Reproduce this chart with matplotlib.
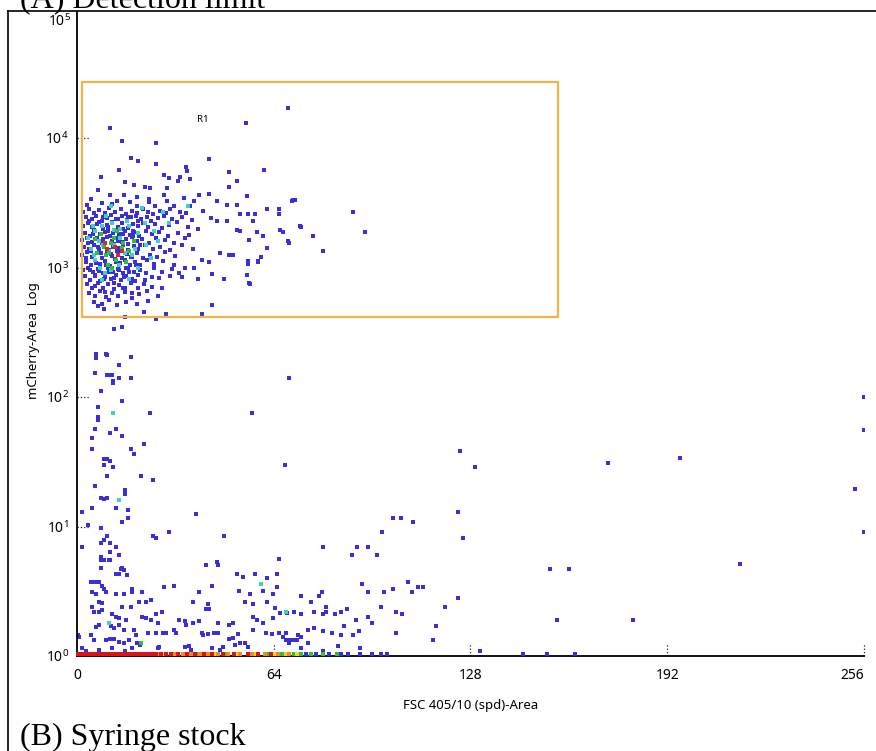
import math

import matplotlib
matplotlib.use("Agg")
import matplotlib.pyplot as plt
from matplotlib.patches import Rectangle
from matplotlib.ticker import FixedLocator, FuncFormatter

plt.rcParams['font.family'] = ['Noto Sans', 'DejaVu Sans']

# ---- events inside / around gate R1 (FSC area, mCherry area) ----
upper_x = [10.8, 14.8, 25.7, 54.9, 68.7, 17.7, 19.7, 42.8, 25.7, 35.3, 35.9, 60.8,
           49.6, 7.8, 13.7, 51.9, 49.6, 55.2, 70.2, 72.5, 43.1, 39.8, 45.7, 48.7,
           51.9, 52.9, 55.5, 57.8, 61.7, 65.6, 65.6, 45.7, 48.7, 57.1, 51.9, 53.0,
           58.4, 60.4, 66.0, 67.0, 68.6, 55.8, 50.6, 49.6, 55.5, 55.5, 58.8, 55.2,
           55.8, 47.7, 43.8, 39.2, 43.1, 40.8, 46.4, 43.8, 40.8, 29.0, 21.9, 6.8,
           8.8, 69.8, 70.8, 89.8, 93.7, 72.8, 76.7, 80.0, 68.9, 61.7, 60.0, 58.8,
           56.2, 12.1, 14.8, 15.7, 25.7, 28.4, 30.0, 29.4, 32.7, 33.6, 36.9, 15.7,
           18.6, 22.2, 23.8, 6.9]
upper_y = [12000, 9500, 9100, 13000, 17000, 7000, 6600, 6900, 6300, 6000, 5600, 5700,
           5500, 5000, 5700, 4650, 4150, 3550, 3300, 2080, 3700, 3600, 3240, 3020,
           3020, 2570, 2570, 2570, 2810, 2810, 2570, 2270, 2300, 2270, 1950, 1900,
           1870, 1740, 1950, 1870, 1590, 1620, 1240, 1260, 1130, 1070, 1130, 870,
           760, 820, 890, 810, 1110, 1150, 1290, 510, 440, 435, 455, 500,
           480, 3250, 3350, 2700, 1880, 2050, 1760, 1350, 1560, 1420, 1200, 1100,
           750, 335, 350, 417, 400, 5160, 4900, 4100, 4650, 5000, 4800, 4600,
           4300, 4200, 4100, 4000]

# dense core of the positive population
core_x = [4.6, 10.8, 15.4, 19.6, 23.5, 28.4, 34.9,
          3.1, 8.2, 11.4, 13.0, 17.3, 19.6, 23.5, 25.5, 29.4, 31.7, 36.9, 38.0,
          2.0, 4.0, 5.4, 7.2, 9.1, 10.4, 12.5, 14.2, 16.0, 17.8, 19.6, 21.5, 23.1, 24.8, 27.0, 28.8, 30.4, 33.6, 35.5, 41.0,
          3.0, 4.8, 6.3, 8.0, 9.6, 11.2, 12.8, 14.5, 16.2, 17.6, 19.2, 20.9, 22.7, 24.2, 26.5, 28.2, 31.0, 34.0, 37.5, 43.5,
          1.8, 3.5, 5.0, 6.6, 8.3, 9.9, 11.5, 13.2, 14.8, 16.5, 18.1, 19.8, 21.4, 23.0, 25.3, 27.8, 30.0, 32.5, 36.0, 39.5,
          2.5, 4.2, 5.8, 7.4, 9.0, 10.6, 12.2, 13.8, 15.5, 17.1, 18.7, 20.3, 22.3, 24.5, 26.8, 29.5, 33.0, 36.5,
          1.5, 3.2, 4.9, 6.5, 8.1, 9.7, 11.3, 12.9, 14.5, 16.1, 17.8, 19.4, 21.0, 23.4, 25.8, 28.5, 31.6, 35.0,
          2.2, 3.9, 5.5, 7.1, 8.7, 10.3, 11.9, 13.5, 15.1, 16.7, 18.4, 20.0, 22.1, 24.6, 27.1, 30.2, 34.3, 37.6,
          1.6, 3.4, 5.0, 6.6, 8.2, 9.8, 11.4, 13.0, 14.6, 16.3, 17.9, 19.6, 21.4, 23.6, 26.0, 28.7, 32.0,
          2.8, 4.4, 6.0, 7.6, 9.2, 10.8, 12.4, 14.0, 15.6, 17.2, 18.9, 20.6, 22.8, 25.2, 28.0, 31.5, 35.2,
          1.9, 3.6, 5.2, 6.8, 8.4, 10.0, 11.6, 13.3, 15.0, 16.7, 18.5, 20.4, 22.6, 25.0, 27.6, 30.8, 33.3, 38.0,
          2.6, 4.3, 5.9, 7.5, 9.2, 10.9, 12.6, 14.3, 16.0, 17.8, 19.8, 22.0, 24.4, 26.8, 30.2, 34.0,
          3.3, 5.0, 6.7, 8.4, 10.2, 12.0, 13.8, 15.7, 17.6, 19.7, 21.9, 24.5, 27.8,
          4.0, 5.8, 7.6, 9.5, 11.4, 13.4, 15.5, 17.8, 20.2, 22.9, 26.5,
          5.5, 8.0, 10.5, 13.0, 16.0, 19.5, 23.0,
          4.0, 5.6, 7.0, 8.6, 10.2, 11.8, 13.4, 15.0, 16.6, 18.2, 19.8,
          3.6, 5.3, 6.9, 8.5, 10.1, 11.7, 13.3, 14.9, 16.5, 18.1, 20.5,
          3.0, 4.7, 6.3, 7.9, 9.5, 11.1, 12.7, 14.3, 15.9, 17.5, 19.3,
          4.1, 5.7, 7.3, 8.9, 10.5, 12.1, 13.7, 15.3, 17.0, 18.8,
          6.0, 9.0, 12.0, 15.0, 18.0]
core_y = [3400, 3600, 3650, 3520, 3380, 3620, 3420,
          3050, 3150, 3100, 3250, 3180, 3000, 3220, 2980, 3240, 2960, 2960, 3240,
          2700, 2850, 2650, 2780, 2620, 2900, 2700, 2850, 2600, 2750, 2650, 2820, 2680, 2600, 2750, 2640, 2820, 2700, 2620, 2750,
          2450, 2350, 2500, 2300, 2420, 2550, 2380, 2480, 2320, 2450, 2520, 2350, 2460, 2300, 2420, 2520, 2380, 2450, 2320, 2400,
          2100, 2200, 2050, 2180, 2000, 2120, 2230, 2060, 2190, 2020, 2150, 2080, 2210, 2040, 2160, 2010, 2120, 2230, 2050, 1980,
          1850, 1760, 1920, 1800, 1880, 1750, 1950, 1820, 1900, 1780, 1870, 1760, 1920, 1800, 1880, 1760, 1850, 1780,
          1620, 1700, 1580, 1680, 1560, 1720, 1600, 1690, 1570, 1650, 1710, 1590, 1660, 1550, 1700, 1620, 1540, 1680,
          1450, 1380, 1500, 1400, 1480, 1360, 1520, 1420, 1490, 1370, 1460, 1400, 1500, 1380, 1450, 1370, 1500, 1400,
          1250, 1320, 1200, 1290, 1180, 1310, 1230, 1330, 1190, 1270, 1210, 1300, 1180, 1260, 1200, 1310, 1230,
          1100, 1040, 1150, 1060, 1130, 1030, 1160, 1080, 1140, 1040, 1110, 1050, 1150, 1070, 1120, 1040, 1000,
          950, 1000, 920, 980, 900, 990, 930, 970, 905, 985, 920, 960, 900, 990, 930, 970, 900, 1000,
          860, 800, 870, 790, 850, 810, 880, 800, 860, 820, 870, 800, 850, 830, 860, 840,
          740, 690, 760, 700, 750, 680, 730, 700, 760, 690, 740, 710, 690,
          640, 600, 660, 590, 640, 600, 650, 580, 620, 660, 600,
          540, 520, 560, 510, 545, 520, 550,
          2300, 1950, 2250, 2450, 2050, 1850, 2350, 2000, 2450, 1900, 2300,
          1550, 1800, 1450, 1650, 1900, 1450, 1600, 1800, 1520, 1760, 1480,
          1180, 1350, 1080, 1300, 1050, 1280, 1100, 1350, 1000, 1200, 1050,
          950, 860, 940, 820, 920, 830, 960, 850, 930, 780,
          720, 650, 760, 690, 640]

# higher-density events (colour-coded by local density)
cyan_x = [5.2, 9.5, 12.0, 16.3, 20.0, 7.0, 14.0, 22.5, 10.5, 18.0, 6.0, 13.5, 24.0, 9.0,
          16.8, 26.5, 30.0, 28.0, 36.0, 4.5, 11.0, 21.0, 6.0, 8.0, 11.5, 14.0, 17.0,
          8.5, 12.0, 5.5, 15.5, 19.0, 11.0, 7.5, 3.5, 22.0, 25.0, 8.0, 20.0,
          11.8, 13.7, 10.4, 60.0, 68.0]
cyan_y = [2100, 2500, 1950, 2300, 1850, 1600, 1700, 1500, 1350, 1250, 1150, 1050, 1180, 900,
          820, 1600, 2200, 2700, 3000, 1400, 3000, 2900, 1900, 2100, 2200, 2000, 2100,
          1500, 1500, 1250, 1300, 1400, 950, 1000, 1700, 2200, 1900, 800, 1000,
          75, 15.9, 1.8, 3.6, 2.2]
green_x = [7.8, 11.2, 14.8, 9.3, 12.6, 16.0, 6.5, 13.0, 18.5, 10.0, 8.8, 12.0, 10.5,
           6.0, 15.0, 17.0, 11.5, 20.9]
green_y = [1800, 1550, 1420, 1250, 1150, 1100, 1300, 1900, 1600, 1050, 1450, 1700, 1300,
           1650, 1550, 1350, 1000, 1.26]
red_x = [9.8, 14.8, 13.2, 9.0, 12.5]
red_y = [1400, 1350, 1250, 1550, 1450]

# scattered events below the gate
low_x = [6.2, 9.5, 17.7, 6.2, 9.8, 13.7, 5.9, 9.8, 10.6, 11.4, 13.7, 17.7, 11.8, 11.8,
         68.9, 7.8, 14.8, 6.8, 23.8, 56.8, 6.8, 6.8, 5.9, 12.7, 10.8, 14.8, 4.9, 21.9,
         4.9, 17.7, 18.7, 8.8, 9.8, 10.8, 8.8, 11.8, 67.8, 9.8, 20.9, 24.8, 5.9, 15.7,
         15.7, 7.8, 8.8, 9.8, 4.9, 12.7, 1.7, 16.7, 38.8, 14.8, 16.7, 3.7, 7.8, 24.8,
         25.7, 29.8, 47.8, 9.8, 7.8, 8.8, 10.8, 1.7, 12.7, 10.8, 13.7, 7.8, 8.8, 10.8,
         65.6, 45.7, 41.8, 7.8, 14.8,
         256, 256, 124.7, 129.6, 172.7, 196.2, 253, 256, 123.8, 125.7, 105.5, 102.9,
         109.4, 99.3, 91.1, 94.7, 80.0, 89.5, 97.6, 153.8, 215.8, 181, 131, 124.0,
         119.8, 116.9, 115.9, 107.8, 111.0, 112.7, 109.0, 102.9, 99.9, 94.7, 92.7, 79.7,
         72.8, 78.7, 76.0, 81.0, 81.0, 87.8, 98.9, 103.8, 105.8, 160, 156, 70.5, 73.0,
         77.0, 80.0, 84.0, 86.0, 90.8, 94.7, 96.0, 68.0, 71.8, 72.8, 75.0, 77.0, 80.0,
         83.0, 86.0, 87.0, 91.8, 89.8, 103.8, 69.0, 75.0, 73.0, 85.0, 92.0, 80.0,
         7.8, 10.4, 41.8, 45.8, 14.4, 15.4, 12.7, 13.7, 16.3, 51.9, 53.9, 57.8, 61.7,
         65.0, 4.6, 6.0, 7.2, 8.2, 8.9, 9.5, 43.8, 65.0, 28.4, 31.7, 5.0, 6.2, 12.7,
         15.4, 18.0, 18.0, 21.2, 39.8, 52.6, 56.2, 60.4, 63.7, 20.2, 22.5, 24.2, 7.2,
         8.2, 37.6, 42.5, 43.1, 42.1, 54.5, 57.1, 61.7, 64.3, 68.2, 17.6, 14.7, 5.0,
         5.5, 7.2, 8.2, 27.8, 25.7, 11.5, 12.7, 13.7, 16.0, 21.2, 22.5, 24.2, 26.2,
         33.3, 35.0, 37.6, 39.8, 45.8, 49.6, 50.6, 57.1, 58.4, 60.4, 63.7, 66.0, 7.2,
         6.2, 11.0, 12.1, 13.7, 15.4, 18.6, 19.3, 23.0, 25.7, 28.0, 29.0, 31.7, 32.3,
         35.6, 40.5, 41.0, 42.5, 44.5, 45.8, 52.3, 50.6, 49.6, 57.1, 61.4, 63.5, 65.8,
         67.0, 68.0, 69.4, 70.5, 71.5, 4.6, 5.5, 0.3, 0.6, 9.5, 10.6, 12.1, 13.7,
         15.4, 16.8, 19.5, 20.5, 26.8, 26.2, 35.0, 36.5, 37.2, 44.0, 46.5, 47.5, 51.3,
         53.0, 54.5, 55.5, 7.2, 11.5, 15.5, 18.0, 1.6, 2.9]
low_y = [215, 213, 205, 200, 212, 177, 154, 148, 148, 148, 140, 140, 133, 128,
         140, 111, 93, 83, 75, 75, 70, 66, 57, 57, 52.5, 50, 48, 43.4,
         40, 40, 36, 33, 33, 32, 30, 29, 30, 24.4, 24.4, 23, 20.4, 19,
         17.7, 16.6, 16.2, 16.6, 14, 14, 12.9, 13.3, 12.4, 10.8, 11.7, 10.2, 9.8, 8.5,
         8.2, 9.0, 8.5, 8.5, 7.5, 7.8, 7.5, 6.9, 6.9, 6.3, 6.0, 5.8, 5.5, 5.5,
         5.6, 5.3, 5.0, 4.8, 4.8,
         100, 56, 38, 29, 31, 34, 19.4, 9.0, 12.9, 8.2, 11.7, 11.7,
         10.8, 9.0, 6.9, 6.9, 6.9, 6.0, 6.0, 4.7, 5.1, 1.9, 1.1, 2.8,
         2.4, 1.7, 1.33, 3.7, 3.4, 3.4, 3.1, 3.3, 3.1, 3.1, 3.6, 3.1,
         2.9, 2.9, 2.6, 2.4, 2.2, 2.3, 2.4, 2.2, 2.1, 4.7, 1.9, 2.2, 2.1,
         2.2, 2.1, 2.1, 2.2, 1.9, 2.0, 1.8, 1.5, 1.45, 1.4, 1.6, 1.65, 1.55,
         1.5, 1.45, 1.7, 1.55, 1.45, 1.5, 1.25, 1.25, 1.15, 1.2, 1.15, 1.1,
         5.5, 5.5, 5.0, 5.0, 4.7, 4.6, 4.3, 4.3, 4.2, 4.3, 4.1, 4.3, 4.0,
         4.3, 3.7, 3.7, 3.7, 3.5, 3.3, 3.1, 3.5, 3.4, 3.4, 3.45, 3.1, 3.0, 3.0,
         3.0, 3.3, 3.1, 3.1, 3.1, 3.15, 3.0, 3.15, 3.0, 2.6, 2.6, 2.7, 2.6,
         2.55, 2.6, 2.5, 2.3, 2.3, 2.6, 2.5, 2.6, 2.35, 2.15, 2.4, 2.4, 2.4,
         2.2, 2.2, 2.25, 2.2, 2.1, 2.1, 2.0, 1.95, 1.9, 2.0, 1.95, 1.9, 1.8,
         1.9, 1.85, 1.8, 1.85, 1.8, 1.75, 1.8, 2.0, 1.9, 1.8, 1.95, 2.15, 1.74,
         1.68, 1.7, 1.65, 1.72, 1.6, 1.6, 1.45, 1.5, 1.5, 1.5, 1.5, 1.6, 1.5,
         1.74, 1.5, 1.45, 1.47, 1.5, 1.5, 1.48, 1.38, 1.35, 1.6, 1.5, 1.47, 1.5,
         1.4, 1.33, 1.33, 1.33, 1.33, 1.45, 1.33, 1.45, 1.4, 1.33, 1.36, 1.36, 1.28,
         1.25, 1.33, 1.25, 1.22, 1.17, 1.15, 1.17, 1.2, 1.12, 1.15, 1.12, 1.17, 1.22,
         1.25, 1.25, 1.17, 1.12, 1.15, 1.1, 1.15, 1.15, 1.1]

# events piled up on the lower edge (mCherry ~ 1)
base_red_x = [0.4, 1.2, 2.0, 2.9, 3.7, 4.5, 5.4, 6.3, 7.1, 8.0, 8.9, 9.8, 10.6, 11.5,
              12.4, 13.3, 14.2, 15.0, 16.1, 17.0, 18.2, 19.5, 20.6, 21.8, 23.0, 24.5,
              25.8, 27.4, 29.0, 30.5, 33.0, 35.8, 38.5, 41.2, 44.0, 47.5, 51.0, 55.5,
              59.0, 63.0]
base_orange_x = [15.6, 22.4, 26.6, 31.8, 34.4, 37.0, 40.0, 42.6, 46.0, 49.2, 53.0, 57.0,
                 61.0, 65.5, 69.0]
base_yellow_x = [28.2, 36.5, 45.0, 52.2, 58.0, 64.2, 68.0, 71.5]
base_green_x = [24.0, 32.5, 39.0, 48.5, 56.3, 62.0, 66.8, 70.5, 73.0, 76.2, 80.0, 84.5]
base_blue_x = [74.5, 77.8, 82.0, 86.0, 88.0, 92.0, 96.0, 99.0, 101.0, 145.0, 153.0, 162.0]
BASE_LEVEL = 1.04

gate_x = [1.6, 156.5]
gate_y = [415, 27000]

x_ticks = [0, 64, 128, 192, 256]
y_decades = [0, 1, 2, 3, 4]

BLUE = '#3b30d8'
fig = plt.figure(figsize=(8.76, 7.51), dpi=100)
ax = fig.add_axes([0.0879, 0.1265, 0.8984, 0.8575])

dot = dict(marker='s', s=10, linewidths=0)
ax.scatter(upper_x, upper_y, color=BLUE, **dot)
ax.scatter(core_x, core_y, color=BLUE, **dot)
ax.scatter(low_x, low_y, color=BLUE, **dot)
ax.scatter(cyan_x, cyan_y, color='#3fd2c0', **dot)
ax.scatter(green_x, green_y, color='#2fbf3a', **dot)
ax.scatter(red_x, red_y, color='#e0261e', **dot)

for xs, c in [(base_blue_x, BLUE), (base_green_x, '#2fbf3a'), (base_yellow_x, '#e8d820'),
              (base_orange_x, '#f08a1c'), (base_red_x, '#d8141a')]:
    ax.scatter(xs, [BASE_LEVEL] * len(xs), color=c, clip_on=False, zorder=3, **dot)

# gate R1
ax.add_patch(Rectangle((gate_x[0], gate_y[0]), gate_x[1] - gate_x[0], gate_y[1] - gate_y[0],
                       fill=False, edgecolor='#f2b443', linewidth=1.6, zorder=4))
ax.text(41, 13800, 'R1', fontsize=7, ha='center', va='center')

ax.set_yscale('log')
ax.set_xlim(0, 256)
ax.set_ylim(1, 10 ** 4.973)

ax.spines['top'].set_visible(False)
ax.spines['right'].set_visible(False)
for s in ('left', 'bottom'):
    ax.spines[s].set_linewidth(1.3)

ax.xaxis.set_major_locator(FixedLocator(x_ticks))
ax.yaxis.set_major_locator(FixedLocator([10 ** d for d in y_decades]))
ax.yaxis.set_minor_locator(FixedLocator([]))
ax.yaxis.set_major_formatter(FuncFormatter(lambda v, p: r'$\mathregular{10^{%d}}$' % round(math.log10(v))))
ax.tick_params(length=0, labelsize=10)
ax.tick_params(axis='x', pad=9)
ax.tick_params(axis='y', pad=6)
ax.get_xticklabels()[-1].set_horizontalalignment('right')
ax.text(-0.008, 0.985, r'$\mathregular{10^{5}}$', transform=ax.transAxes, ha='right',
        va='center', fontsize=10)

# dotted tick marks drawn inside the plot area
for v in x_ticks[1:]:
    ax.plot([v, v], [0, 0.02], transform=ax.get_xaxis_transform(), ls=':', lw=0.9,
            color='#222222', clip_on=False)
for d in y_decades[1:]:
    ax.plot([0, 0.015], [10 ** d, 10 ** d], transform=ax.get_yaxis_transform(), ls=':',
            lw=0.9, color='#222222', clip_on=False)

ax.set_xlabel('FSC 405/10 (spd)-Area', fontsize=9.5)
ax.xaxis.set_label_coords(0.5, -0.066)
ax.set_ylabel('mCherry-Area  Log', fontsize=9.5)
ax.yaxis.set_label_coords(-0.047, 0.49)

# panel frame and captions
fig.add_artist(plt.Line2D([0.0086, 0.0086], [0, 0.986], transform=fig.transFigure,
                          color='black', lw=1.2))
fig.add_artist(plt.Line2D([0.0086, 1.0], [0.986, 0.986], transform=fig.transFigure,
                          color='black', lw=1.2))
fig.text(0.023, 0.9907, '(A) Detection limit', family='Liberation Serif', fontsize=23,
         va='baseline')
fig.text(0.023, 0.008, '(B) Syringe stock', family='Liberation Serif', fontsize=23,
         va='baseline')

fig.savefig('out.png', dpi=100)
